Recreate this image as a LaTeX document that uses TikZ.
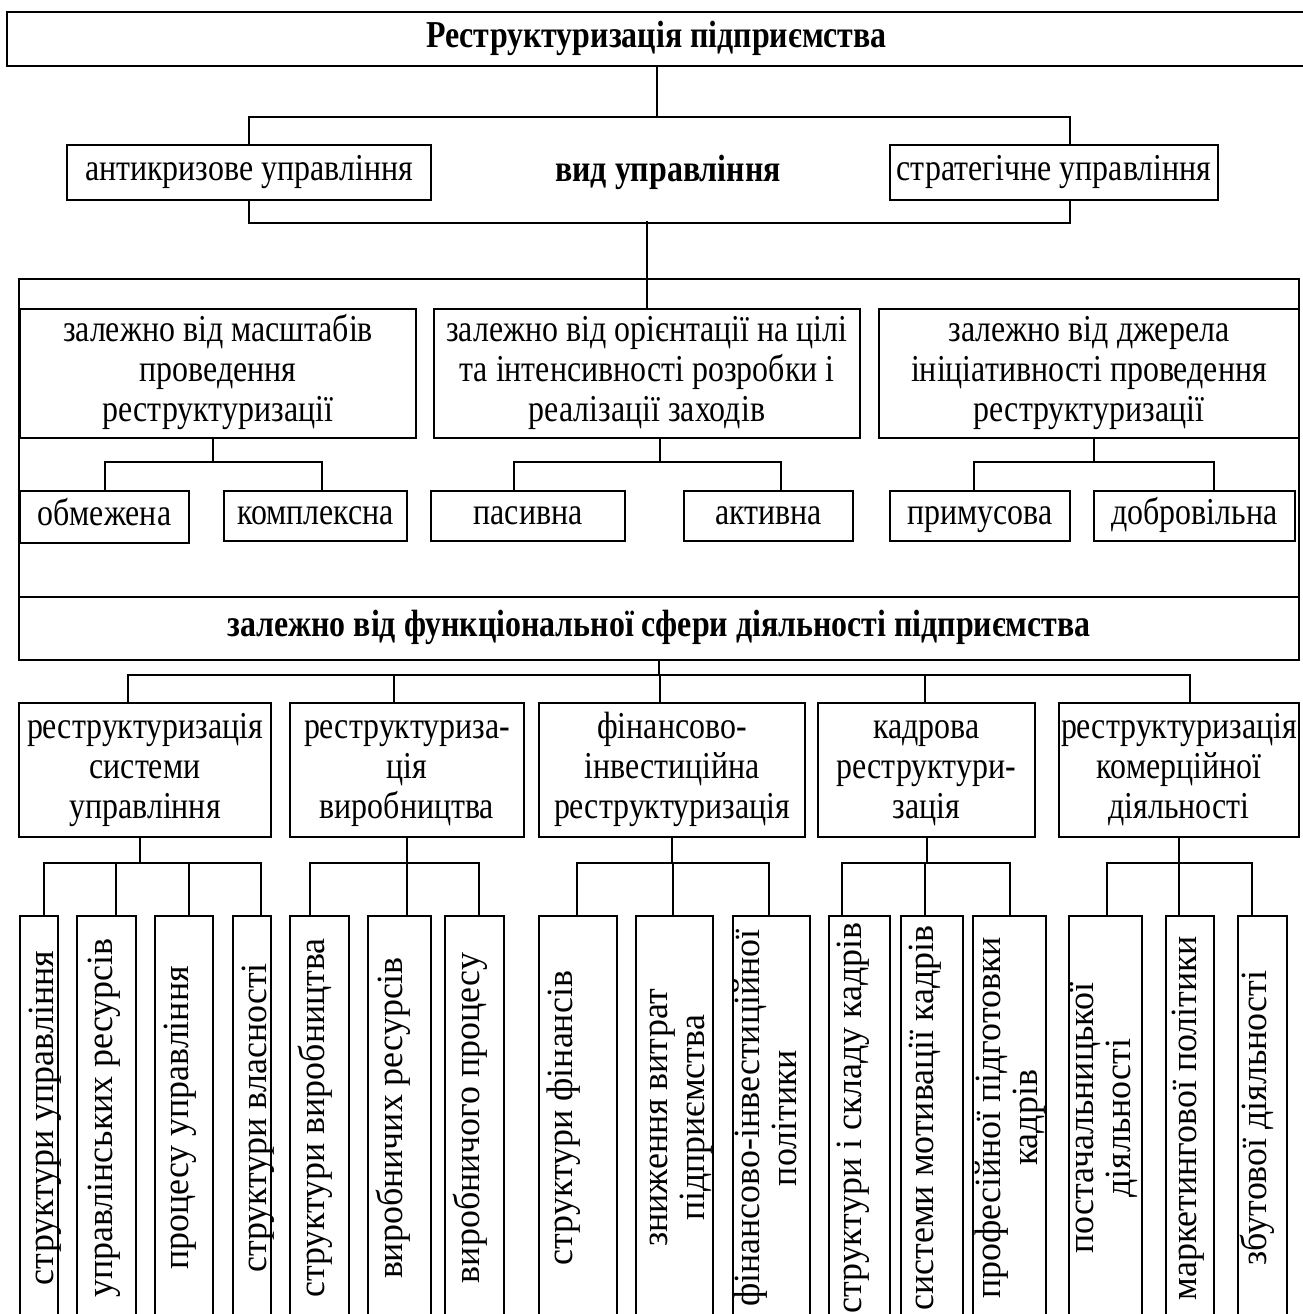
\documentclass[tikz,border=0pt]{standalone}
\usepackage{fontspec}
\setmainfont{Liberation Serif}[FakeStretch=0.84]
\newfontfamily\vertfont{Liberation Serif}[FakeStretch=0.97]

\begin{document}
\begin{tikzpicture}[
     x=0.5pt, y=-0.5pt,
     % define styles
     block/.style={
         draw, line width=1pt, align=center, inner sep=0pt,
         font=\fontsize{19}{20}\selectfont,
         text height=14pt, text depth=6pt
     },
     tri/.style={
         block, text height=54pt
     },
     headblock/.style={
         block, font=\fontsize{19}{20}\selectfont\bfseries
     },
     vblock/.style={
         draw, line width=1pt, minimum height=202pt
     },
     vtext/.style={
         rotate=90, align=center, inner sep=0pt,
         font=\vertfont\fontsize{18.5}{18.5}\selectfont
     },
     wire/.style={line width=1pt}
]
\useasboundingbox (0,0) rectangle (1303,1314);

% top level
\node[headblock, minimum width=649.5pt, minimum height=27pt] (title) at (656.5,39) {Реструктуризація підприємства};
\node[block, minimum width=182pt, minimum height=27.5pt] (anti) at (249,172.5) {антикризове управління};
\node[block, minimum width=164pt, minimum height=27.5pt] (strat) at (1054,172.5) {стратегічне управління};
\node[font=\fontsize{19}{20}\selectfont\bfseries] (kind) at (668,172) {вид управління};

\draw[wire] (title.south) -- ++(0,50) -| (anti.north);
\draw[wire] (title.south) -- ++(0,50) -| ([xshift=8pt]strat.north);
\draw[wire] (anti.south) -- ++(0,22) -| ([xshift=8pt]strat.south);

% frame with criteria
\node[draw, line width=1pt, minimum width=640pt, minimum height=190.5pt] (frame) at (659,469.5) {};
\node[tri, minimum width=198pt, minimum height=64.5pt] (crit1) at (218,373.5) {залежно від масштабів\\проведення\\реструктуризації};
\node[tri, minimum width=213pt, minimum height=64.5pt] (crit2) at (647,373.5) {залежно від орієнтації на цілі\\та інтенсивності розробки і\\реалізації заходів};
\node[tri, minimum width=210pt, minimum height=64.5pt] (crit3) at (1089,373.5) {залежно від джерела\\ініціативності проведення\\реструктуризації};
\draw[wire] (crit2.north) -- ++(0,-87);

\node[block, minimum width=84.5pt, minimum height=26pt] (obm) at (104.5,517) {обмежена};
\node[block, minimum width=91.5pt, minimum height=25pt] (kompl) at (315.5,516) {комплексна};
\node[block, minimum width=97pt, minimum height=25pt] (pas) at (528,516) {пасивна};
\node[block, minimum width=84.5pt, minimum height=25pt] (akt) at (768.5,516) {активна};
\node[block, minimum width=90pt, minimum height=25pt] (prym) at (980,516) {примусова};
\node[block, minimum width=100.5pt, minimum height=25pt] (dobr) at (1194.5,516) {добровільна};

\foreach \p/\ps/\c/\cs in {crit1/-2.5/obm/0, crit1/-2.5/kompl/3.25,
                           crit2/6.5/pas/-7, crit2/6.5/akt/6.25,
                           crit3/2.5/prym/-3, crit3/2.5/dobr/9.75}
  \draw[wire] ([xshift=\ps pt]\p.south) -- ++(0,23) -| ([xshift=\cs pt]\c.north);

\node[headblock, minimum width=640pt, minimum height=31.5pt] (func) at (659,628.5) {залежно від функціональної сфери діяльності підприємства};

% functional spheres
\node[tri, minimum width=126pt, minimum height=67pt] (sA) at (145,770) {реструктуризація\\системи\\управління};
\node[tri, minimum width=117pt, minimum height=67pt] (sB) at (407,770) {реструктуриза-\\ція\\виробництва};
\node[tri, minimum width=133pt, minimum height=67pt] (sC) at (672,770) {фінансово-\\інвестиційна\\реструктуризація};
\node[tri, minimum width=108.5pt, minimum height=67pt] (sD) at (926.5,770) {кадрова\\реструктури-\\зація};
\node[tri, minimum width=120pt, minimum height=67pt] (sE) at (1179,770) {реструктуризація\\комерційної\\діяльності};

\foreach \c/\s in {sA/-8.5, sB/-6.5, sC/-6, sD/-0.75, sE/5.5}
  \draw[wire] (func.south) -- ++(0,14) -| ([xshift=\s pt]\c.north);

% directions of restructuring
\foreach \i/\xa/\xb/\tx/\cx/\txt in {
   1/20/58/45.5/44/структури управління,
   2/77/136/104/116/управлінських ресурсів,
   3/155/213/180.5/189/процесу управління,
   4/233/271/258/261/структури власності,
   5/290/349/315/310/структури виробництва,
   6/368/431/393.5/407/виробничих ресурсів,
   7/445/504/470.5/479/виробничого процесу,
   8/539/617/564/577/структури фінансів,
   9/636/713/681/673/зниження витрат\\підприємства,
   10/733/810/765.5/769/фінансово-інвестиційної\\політики,
   11/829/890/853/842/структури і складу кадрів,
   12/901/963/925/925/системи мотивації кадрів,
   13/973/1046/1010/1010/професійної підготовки\\кадрів,
   14/1069/1142/1104/1107/постачальницької\\діяльності,
   15/1166/1214/1188/1179/маркетингової політики,
   16/1238/1287/1257/1252/збутової діяльності}
{
  \pgfmathsetmacro\boxw{(\xb-\xa)/2}
  \node[vblock, minimum width=\boxw pt] (v\i) at ({(\xa+\xb)/2},1118) {};
  \node[vtext] (v\i t) at (\tx,1118) {\txt};
  \coordinate (v\i c) at (v\i.north -| \cx,0);
}

\foreach \i in {1,...,4}
  \draw[wire] ([xshift=-2.5pt]sA.south) -- ++(0,25) -| (v\i c);
\foreach \i in {5,6,7}
  \draw[wire] (sB.south) -- ++(0,25) -| (v\i c);
\foreach \i in {8,9,10}
  \draw[wire] (sC.south) -- ++(0,25) -| (v\i c);
\foreach \i in {11,12,13}
  \draw[wire] (sD.south) -- ++(0,25) -| (v\i c);
\foreach \i in {14,15,16}
  \draw[wire] (sE.south) -- ++(0,25) -| (v\i c);
\end{tikzpicture}
\end{document}
